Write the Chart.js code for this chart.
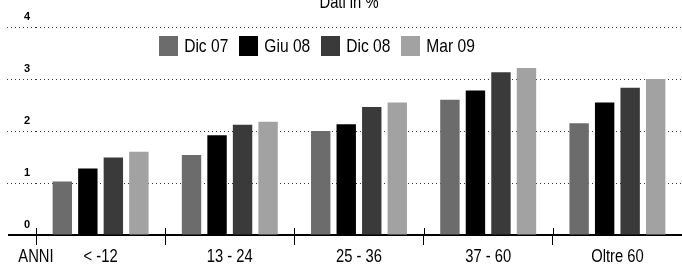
<!DOCTYPE html>
<html lang="it">
<head>
<meta charset="utf-8">
<title>Dati in %</title>
<script src="https://cdn.jsdelivr.net/npm/chart.js@4/dist/chart.umd.min.js"></script>
<style>
    html, body { margin: 0; padding: 0; background: #fff; }
    #wrap { width: 682px; height: 271px; }
</style>
</head>
<body>
<div id="wrap"><canvas id="grafico" width="682" height="271"></canvas></div>
<script>
// Dati del grafico
const categorie = ['< -12', '13 - 24', '25 - 36', '37 - 60', 'Oltre 60'];
const serieNomi = ['Dic 07', 'Giu 08', 'Dic 08', 'Mar 09'];
const dic07 = [1.03, 1.54, 2.00, 2.60, 2.15];
const giu08 = [1.28, 1.92, 2.13, 2.78, 2.55];
const dic08 = [1.49, 2.12, 2.46, 3.13, 2.83];
const mar09 = [1.60, 2.18, 2.55, 3.21, 3.00];
const yTicks = [0, 1, 2, 3, 4];
const titolo = 'Dati in %';
const etichettaAsse = 'ANNI';

const colori = ['#6c6c6c', '#000000', '#3a3a3a', '#a2a2a2'];
const fontBase = 'Arial, "Liberation Sans", sans-serif';
const stretto = 0.82; // compressione orizzontale del carattere

/**
 * Scrive un testo "condensato" (il carattere narrow non e' installato)
 */
function testoStretto(ctx, testo, x, y, allineamento) {
    ctx.save();
    ctx.translate(x, y);
    ctx.scale(stretto, 1);
    ctx.textAlign = allineamento;
    ctx.fillText(testo, 0, 0);
    ctx.restore();
}

/**
 * Disegna titolo, legenda, etichette asse X, estensioni della griglia
 */
const decorazioni = {
    id: 'decorazioni',
    afterDraw: function(chart) {
        const ctx = chart.ctx;
        const area = chart.chartArea;
        const y = chart.scales.y;
        const x = chart.scales.x;
        ctx.save();

        // Titolo (tagliato in alto come nell'originale)
        ctx.fillStyle = '#000';
        ctx.font = '18px ' + fontBase;
        ctx.textBaseline = 'alphabetic';
        testoStretto(ctx, titolo, 349, 8, 'center');

        // Griglia punteggiata prolungata a sinistra
        ctx.strokeStyle = '#333';
        ctx.lineWidth = 1;
        ctx.setLineDash([1, 3]);
        yTicks.forEach(function(v) {
            if (v === 0) return;
            const py = Math.round(y.getPixelForValue(v)) + 0.5;
            ctx.beginPath();
            ctx.moveTo(7, py);
            ctx.lineTo(area.left, py);
            ctx.stroke();
        });
        ctx.setLineDash([]);

        // Linea di base prolungata
        ctx.strokeStyle = '#000';
        ctx.lineWidth = 2;
        ctx.beginPath();
        ctx.moveTo(8, area.bottom);
        ctx.lineTo(area.left, area.bottom);
        ctx.stroke();

        // Tacche sopra la linea di base
        ctx.lineWidth = 1;
        const passo = (x.right - x.left) / categorie.length;
        for (let i = 0; i < categorie.length; i++) {
            const px = Math.round(x.left + i * passo) + 0.5;
            ctx.beginPath();
            ctx.moveTo(px, area.bottom - 7);
            ctx.lineTo(px, area.bottom);
            ctx.stroke();
        }

        // Etichette asse X e ANNI
        ctx.font = '18px ' + fontBase;
        ctx.textBaseline = 'middle';
        testoStretto(ctx, etichettaAsse, x.left, 257, 'center');
        categorie.forEach(function(c, i) {
            testoStretto(ctx, c, x.getPixelForValue(i), 257, 'center');
        });

        // Legenda
        ctx.font = '19px ' + fontBase;
        const box = 19, gap = 6, spazio = 11;
        const larghezze = chart.data.datasets.map(function(ds) {
            return box + gap + ctx.measureText(ds.label).width * stretto;
        });
        const totale = larghezze.reduce(function(a, b) { return a + b; }, 0) + spazio * (larghezze.length - 1);
        let lx = 317 - totale / 2;
        chart.data.datasets.forEach(function(ds, i) {
            ctx.fillStyle = ds.backgroundColor;
            ctx.fillRect(Math.round(lx), 36, box, 20);
            ctx.fillStyle = '#000';
            testoStretto(ctx, ds.label, lx + box + gap, 47, 'left');
            lx += larghezze[i] + spazio;
        });

        ctx.restore();
    },
};

const serie = [dic07, giu08, dic08, mar09];

new Chart(document.getElementById('grafico'), {
    type: 'bar',
    data: {
        labels: categorie,
        datasets: serie.map(function(valori, i) {
            return {
                label: serieNomi[i],
                data: valori,
                backgroundColor: colori[i],
                borderWidth: 0,
                barPercentage: 0.76,
                categoryPercentage: 0.79,
            };
        }),
    },
    options: {
        responsive: false,
        animation: false,
        layout: {
            padding: { top: 27, right: 0, left: 0, bottom: 0 },
        },
        plugins: {
            legend: { display: false },
            title: { display: false },
            tooltip: { enabled: false },
        },
        scales: {
            x: {
                offset: true,
                afterFit: function(scale) { scale.height = 36; },
                grid: {
                    offset: true,
                    drawOnChartArea: false,
                    drawTicks: true,
                    tickLength: 10,
                    color: '#000',
                    lineWidth: 1,
                },
                border: { display: true, color: '#000', width: 2 },
                ticks: { display: false },
            },
            y: {
                min: 0,
                max: 4,
                afterFit: function(scale) { scale.width = 36; },
                afterBuildTicks: function(scale) {
                    scale.ticks = yTicks.map(function(v) { return { value: v }; });
                },
                grid: {
                    color: '#333',
                    lineWidth: 1,
                    drawTicks: false,
                },
                border: { display: false, dash: [1, 3] },
                ticks: {
                    color: '#000',
                    padding: 6,
                    labelOffset: -10,
                    font: { family: fontBase, size: 11, weight: 'bold' },
                },
            },
        },
    },
    plugins: [decorazioni],
});
</script>
</body>
</html>
